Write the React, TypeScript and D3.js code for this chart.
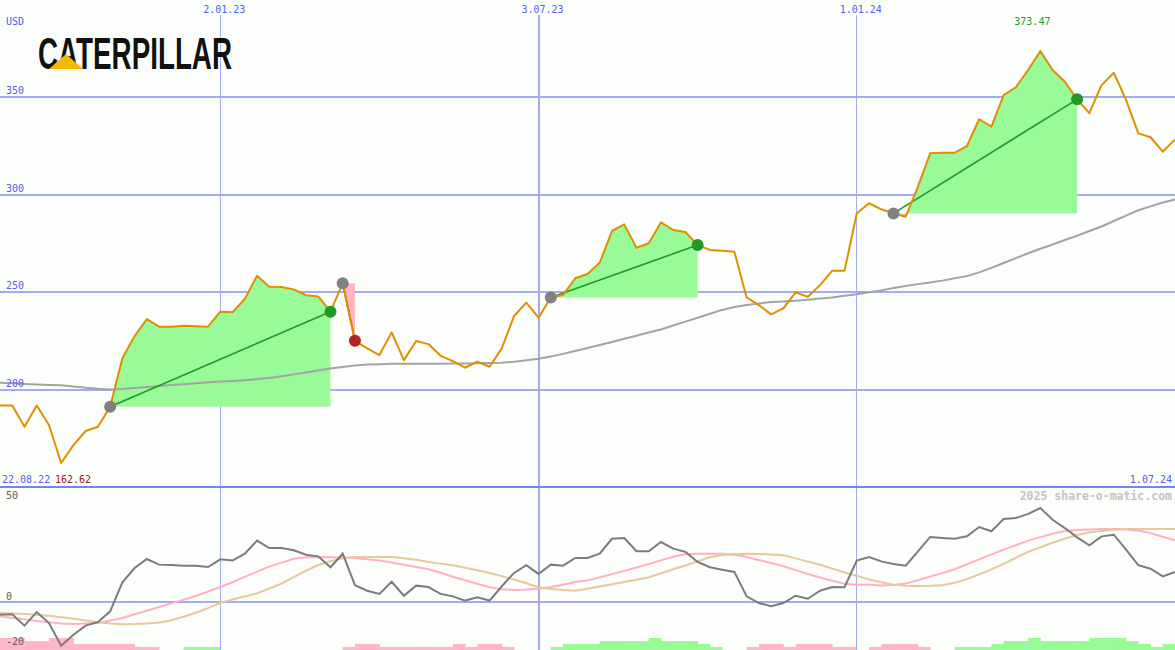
import React, { useRef, useEffect } from 'react';
import { select, scaleLinear, line, area, min, max, maxIndex } from 'd3';

const WIDTH = 1175;
const HEIGHT = 650;
const PANEL_SPLIT = 487;

const firstDate = '22.08.22';
const lastDate = '1.07.24';
const gridDateIndex = [18, 44, 70];
const gridDateLabels = ['2.01.23', '3.07.23', '1.01.24'];
const gridDateWidth = [1, 2, 1];
const priceTicks = [200, 250, 300, 350];
const lowerTicks = [50, 0, -20];

// weekly close, USD
const price = [
  192.1, 192.1, 181.2, 192.1, 182.1, 162.62, 171.8, 179, 181.2, 191.4,
  216.2, 227.6, 236.3, 232.4, 232.4, 232.9, 232.7, 232.4, 240.1, 239.8,
  246.6, 258.5, 252.9, 252.7, 251.5, 248.5, 247.9, 240.1, 254.6, 225.2,
  221.3, 217.9, 229.5, 215.3, 225.1, 223.5, 217.5, 214.8, 211.4, 214.5,
  211.9, 221.3, 237.9, 244.7, 237, 247.4, 248.6, 257.2, 259.4, 265.2,
  281.4, 284.8, 272.8, 275.1, 285.8, 281.9, 280.9, 274.2, 271.7, 271.3,
  270.8, 247.4, 243.5, 238.7, 241.8, 250, 247.7, 253.7, 261.1, 261.1,
  290.4, 295.6, 292.5, 290.4, 288.7, 304.1, 321.2, 321.5, 321.5, 324.9,
  338.6, 334.8, 351, 355, 363.8, 373.47, 363.8, 357.8, 348.8, 341.7,
  356.1, 362.4, 348.5, 331.4, 329.4, 322, 328.3,
];

// long moving average
const average = [
  203.7, 203.4, 203.1, 202.8, 202.6, 202.4, 201.8, 201.2, 200.6, 200.3,
  200.5, 201, 201.5, 202, 202.5, 203, 203.5, 204, 204.3, 204.6,
  205, 205.6, 206.2, 207, 208, 209, 210, 211, 211.8, 212.5,
  213, 213.2, 213.4, 213.5, 213.5, 213.5, 213.5, 213.6, 213.6, 213.7,
  213.8, 214, 214.5, 215.2, 216, 217.2, 218.5, 220, 221.5, 223,
  224.6, 226.2, 227.8, 229.4, 231, 233, 235, 237, 239, 241,
  242.5, 243.5, 244.3, 245, 245.3, 245.7, 246.2, 246.8, 247.4, 248.2,
  249, 250, 251, 252.2, 253.2, 254.2, 255, 256, 257.2, 258.3,
  260.2, 262.5, 265, 267.5, 270, 272.3, 274.5, 276.8, 279, 281.4,
  283.7, 286.5, 289.3, 292, 294, 296, 297.6,
];

// lower panel
const momentum = [
  -6.3, -6.1, -11.7, -5, -10.4, -21.6, -16.2, -11.7, -9.9, -4.6,
  9.7, 16.8, 21.3, 18.5, 18.3, 18, 18, 17.3, 21.1, 20.5,
  23.9, 30.4, 26.7, 26.7, 25.6, 23.4, 22.6, 17.2, 23.9, 8.3,
  5.6, 4, 10, 3.1, 8.1, 7.4, 4, 2.8, 0.7, 2.3,
  0.7, 7.8, 14.4, 18.2, 13.9, 18.5, 18, 21.8, 21.8, 23.9,
  31.3, 31.7, 25.1, 25.1, 29.7, 26.4, 24.8, 19.8, 17.2, 16,
  14.9, 2.8, -0.5, -2.1, -0.5, 3.1, 1.6, 5.6, 7.4, 7.3,
  20.5, 22.2, 20.1, 18.8, 18, 25.1, 32.2, 31.7, 31.3, 32.5,
  37.1, 35, 41.1, 41.6, 43.6, 46.5, 40.7, 36.6, 32, 28.1,
  32.5, 33.3, 25.9, 18.2, 16.5, 12.7, 14.9,
];

const signal = [
  -7.1, -7.9, -8.6, -9.4, -10, -10.6, -10.9, -10.7, -10.4, -9.2,
  -7.9, -6.1, -4.3, -2.5, -0.7, 1.1, 3, 5.2, 7.4, 9.8,
  12.4, 15, 17.5, 19.5, 21.4, 22.1, 22.3, 22.2, 22, 21.8,
  21.2, 20.5, 19.6, 18.4, 17.3, 16.2, 14.5, 12.5, 10.8, 9,
  7.3, 6.3, 6, 6.2, 6.6, 7.4, 8.5, 9.9, 10.7, 12.2,
  13.8, 15.4, 17.1, 18.8, 20.6, 22.4, 23.6, 23.9, 23.9, 23.9,
  23.4, 22.3, 20.8, 19.3, 17.7, 15.8, 13.9, 12.1, 10.5, 9,
  8.6, 8.6, 8.2, 8.4, 9.1, 10.8, 12.6, 14.3, 16.2, 18.7,
  21.1, 23.6, 25.9, 28.1, 30.4, 32.1, 33.8, 35.1, 35.6, 35.9,
  36.2, 36.2, 35.9, 35.4, 34.1, 32.3, 30.5,
];

const slowSignal = [
  -5.4, -5.7, -6, -6.3, -6.8, -7.6, -8.3, -9.2, -10, -10.7,
  -11, -10.9, -10.6, -10.2, -9, -7.3, -5.3, -3, -0.5, 1.2,
  2.8, 4.3, 6.7, 9.1, 12.3, 15.5, 18.3, 20.2, 21.6, 22.3,
  22.3, 22.3, 22.3, 21.7, 20.9, 19.8, 19, 18.2, 17, 15.7,
  14.4, 12.8, 11.1, 9.3, 7.3, 6.4, 5.9, 5.6, 6.6, 7.7,
  8.8, 9.9, 11, 12.2, 14.2, 16.2, 18.1, 20.2, 22.2, 23.3,
  23.8, 23.9, 23.8, 23.5, 23.1, 21.6, 20, 18.4, 16.5, 14.6,
  13, 11.2, 9.8, 8.6, 8, 7.9, 8, 8.3, 9.5, 11.3,
  13.7, 16.1, 18.9, 21.9, 24.8, 27.1, 29.3, 31.3, 33.2, 34.5,
  35.2, 35.8, 36.1, 36.1, 36.1, 36.1, 36.1,
];

// bottom histogram, one bar per week interval
const histogram = [
  -4, -4, -3, -3, -4, -4, -2, -2, -2, -2,
  -2, -1, -1, 0, 0, 1, 1, 1, 0, 0,
  0, 0, 0, 0, 0, 0, 0, 0, -1, -2,
  -2, -1, -1, -1, -1, -1, -1, -2, -1, -2,
  -2, -1, 0, 0, 0, 1, 2, 2, 2, 3,
  3, 3, 3, 4, 3, 3, 3, 2, 1, 0,
  0, -1, -2, -2, -1, -2, -2, -2, -1, -1,
  0, -1, -2, -2, -2, -1, 0, 0, 1, 1,
  1, 2, 3, 3, 4, 3, 3, 3, 3, 4,
  4, 4, 3, 2, 1, 2,
];

const tradeStart = [9, 28, 45, 73];
const tradeEnd = [27, 29, 57, 88];

const GRID = '#a3acf0';
const BLUE_TEXT = '#5060f0';
const MONO = "'DejaVu Sans Mono', monospace";

export default function App() {
  const svgRef = useRef<SVGSVGElement>(null);

  useEffect(() => {
    const svg = select(svgRef.current);
    svg.selectAll('*').remove();

    const x = scaleLinear().domain([0, price.length - 1]).range([0, WIDTH]);
    const y = scaleLinear().domain([200, 350]).range([390, 97]);
    const yLow = scaleLinear().domain([0, 50]).range([602, 501]);
    const barHeight = scaleLinear().domain([0, 4]).range([0, 12]);

    svg.append('rect').attr('width', WIDTH).attr('height', HEIGHT).attr('fill', '#fbfefb');

    // histogram at the bottom
    svg
      .append('g')
      .selectAll('rect')
      .data(histogram)
      .join('rect')
      .attr('x', (_d, i) => x(i))
      .attr('width', (_d, i) => x(i + 1) - x(i) + 0.4)
      .attr('y', d => HEIGHT - barHeight(Math.abs(d)))
      .attr('height', d => barHeight(Math.abs(d)))
      .attr('fill', d => (d < 0 ? '#ffb6c8' : '#98fb98'));

    // grid
    const grid = svg.append('g').attr('shape-rendering', 'crispEdges');
    grid
      .selectAll('.hgrid')
      .data(priceTicks)
      .join('line')
      .attr('class', 'hgrid')
      .attr('x1', 0)
      .attr('x2', WIDTH)
      .attr('y1', d => y(d))
      .attr('y2', d => y(d))
      .attr('stroke', GRID)
      .attr('stroke-width', 2);
    grid
      .append('line')
      .attr('x1', 0)
      .attr('x2', WIDTH)
      .attr('y1', yLow(0))
      .attr('y2', yLow(0))
      .attr('stroke', GRID)
      .attr('stroke-width', 2);
    grid
      .selectAll('.vgrid')
      .data(gridDateIndex)
      .join('line')
      .attr('class', 'vgrid')
      .attr('x1', d => x(d))
      .attr('x2', d => x(d))
      .attr('y1', 15)
      .attr('y2', HEIGHT)
      .attr('stroke', GRID)
      .attr('stroke-width', (_d, i) => gridDateWidth[i]);
    grid
      .append('line')
      .attr('x1', 0)
      .attr('x2', WIDTH)
      .attr('y1', PANEL_SPLIT)
      .attr('y2', PANEL_SPLIT)
      .attr('stroke', '#7484ea')
      .attr('stroke-width', 2);

    // trade areas
    const defs = svg.append('defs');
    const fills = svg.append('g');
    tradeStart.forEach((s, k) => {
      const e = tradeEnd[k];
      const base = y(price[s]);
      defs
        .append('clipPath')
        .attr('id', `gain-${k}`)
        .append('rect')
        .attr('x', 0)
        .attr('y', 0)
        .attr('width', WIDTH)
        .attr('height', base);
      defs
        .append('clipPath')
        .attr('id', `loss-${k}`)
        .append('rect')
        .attr('x', 0)
        .attr('y', base)
        .attr('width', WIDTH)
        .attr('height', PANEL_SPLIT - base);
      const fillArea = area<number>()
        .x((_d, i) => x(s + i))
        .y0(base)
        .y1(d => y(d));
      const seg = price.slice(s, e + 1);
      fills.append('path').attr('d', fillArea(seg)).attr('fill', '#98fb98').attr('clip-path', `url(#gain-${k})`);
      fills.append('path').attr('d', fillArea(seg)).attr('fill', '#ffb6c1').attr('clip-path', `url(#loss-${k})`);
    });

    const priceLine = line<number>()
      .x((_d, i) => x(i))
      .y(d => y(d));
    svg
      .append('path')
      .attr('d', priceLine(average))
      .attr('fill', 'none')
      .attr('stroke', '#a4a4a4')
      .attr('stroke-width', 2);

    // trade connecting lines sit under the price line
    const links = svg.append('g');
    tradeStart.forEach((s, k) => {
      const e = tradeEnd[k];
      const win = price[e] >= price[s];
      links
        .append('line')
        .attr('x1', x(s))
        .attr('y1', y(price[s]))
        .attr('x2', x(e))
        .attr('y2', y(price[e]))
        .attr('stroke', win ? '#229922' : '#b22222')
        .attr('stroke-width', 1.6);
    });

    svg
      .append('path')
      .attr('d', priceLine(price))
      .attr('fill', 'none')
      .attr('stroke', '#de9000')
      .attr('stroke-width', 2)
      .attr('stroke-linejoin', 'round');

    // trade dots
    const marks = svg.append('g');
    tradeStart.forEach((s, k) => {
      const e = tradeEnd[k];
      const win = price[e] >= price[s];
      marks.append('circle').attr('cx', x(s)).attr('cy', y(price[s])).attr('r', 6).attr('fill', '#808080');
      marks
        .append('circle')
        .attr('cx', x(e))
        .attr('cy', y(price[e]))
        .attr('r', 6)
        .attr('fill', win ? '#229922' : '#b22222');
    });

    // lower panel lines
    const lowLine = line<number>()
      .x((_d, i) => x(i))
      .y(d => yLow(d));
    const lower = [
      { data: signal, color: '#ffb0c4' },
      { data: slowSignal, color: '#e4ca9c' },
      { data: momentum, color: '#7c7c7c' },
    ];
    lower.forEach(l => {
      svg
        .append('path')
        .attr('d', lowLine(l.data))
        .attr('fill', 'none')
        .attr('stroke', l.color)
        .attr('stroke-width', 2);
    });

    // texts
    const text = svg.append('g').attr('font-family', MONO).attr('font-size', 10);
    text.append('text').attr('x', 6).attr('y', 25).attr('fill', BLUE_TEXT).text('USD');
    text
      .selectAll('.ptick')
      .data(priceTicks)
      .join('text')
      .attr('class', 'ptick')
      .attr('x', 6)
      .attr('y', d => y(d) - 3)
      .attr('fill', BLUE_TEXT)
      .text(d => String(d));
    text
      .selectAll('.dtick')
      .data(gridDateIndex)
      .join('text')
      .attr('class', 'dtick')
      .attr('x', d => x(d) + 4)
      .attr('y', 13)
      .attr('text-anchor', 'middle')
      .attr('fill', BLUE_TEXT)
      .text((_d, i) => gridDateLabels[i]);
    text.append('text').attr('x', 2).attr('y', 483).attr('fill', BLUE_TEXT).text(firstDate);
    text
      .append('text')
      .attr('x', 55)
      .attr('y', 483)
      .attr('fill', '#a01818')
      .text((min(price) ?? 0).toFixed(2));
    text
      .append('text')
      .attr('x', WIDTH - 3)
      .attr('y', 483)
      .attr('text-anchor', 'end')
      .attr('fill', BLUE_TEXT)
      .text(lastDate);
    const top = maxIndex(price);
    text
      .append('text')
      .attr('x', x(top) - 8)
      .attr('y', 25)
      .attr('text-anchor', 'middle')
      .attr('fill', '#229922')
      .text((max(price) ?? 0).toFixed(2));
    text
      .selectAll('.ltick')
      .data(lowerTicks)
      .join('text')
      .attr('class', 'ltick')
      .attr('x', 6)
      .attr('y', d => (d < 0 ? yLow(d) + 3 : yLow(d) - 2))
      .attr('fill', '#606060')
      .text(d => String(d));
    svg
      .append('text')
      .attr('x', WIDTH - 3)
      .attr('y', 500)
      .attr('text-anchor', 'end')
      .attr('font-family', MONO)
      .attr('font-weight', 'bold')
      .attr('font-size', 11.5)
      .attr('fill', '#c4c4c4')
      .text('2025 share-o-matic.com');

    // logo
    const logo = svg.append('g');
    logo
      .append('text')
      .attr('x', 38)
      .attr('y', 69)
      .attr('font-family', "'Liberation Sans Narrow', 'Liberation Sans', Arial, sans-serif")
      .attr('font-weight', 'bold')
      .attr('font-size', 45)
      .attr('textLength', 194)
      .attr('lengthAdjust', 'spacingAndGlyphs')
      .attr('fill', '#111')
      .text('CATERPILLAR');
    logo.append('polygon').attr('points', '49,69 66,54 83,69').attr('fill', '#f5b800');
  }, []);

  return (
    <svg
      ref={svgRef}
      width={WIDTH}
      height={HEIGHT}
      style={{ position: 'absolute', left: 0, top: 0, display: 'block' }}
    />
  );
}
